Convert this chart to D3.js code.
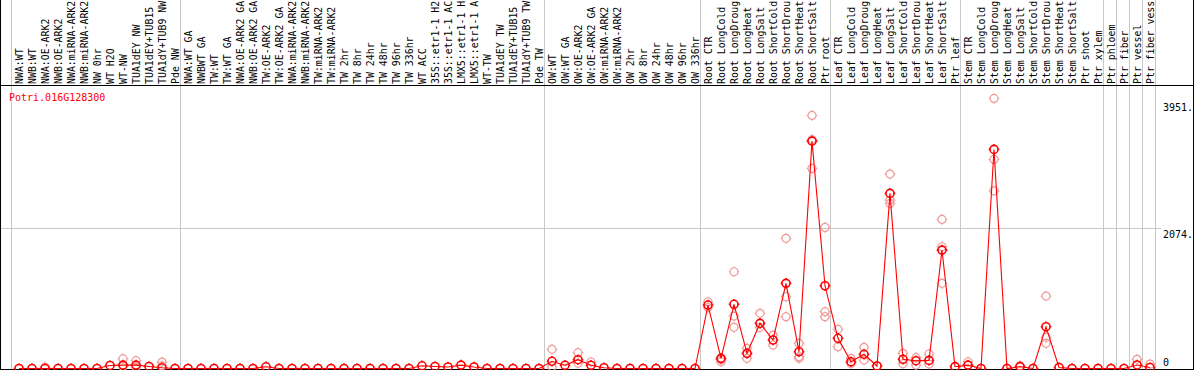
<!DOCTYPE html>
<html>
<head>
<meta charset="utf-8">
<script src="https://cdn.jsdelivr.net/npm/d3@7"></script>
<style>
  body { margin: 0; background: #fff; }
  svg { display: block; }
  text { font-family: "DejaVu Sans Mono", monospace; font-size: 10px; }
  .sample { font-size: 9.9px; }
</style>
</head>
<body>
<div id="chart"></div>
<script>
// DATA
const gene = 'Potri.016G128300';

// sample labels, as far as they show in the header
const samples = [
  'NWA:WT', 'NWB:WT', 'NWA:OE-ARK2', 'NWB:OE-ARK2', 'NWA:miRNA-ARK2', 'NWB:miRNA-ARK2',
  'NW 0hr', 'WT H2O', 'WT-NW', 'TUA1dEY NW', 'TUA1dEY+TUB15', 'TUA1dY+TUB9 NW', 'Pde NW',
  'NWA:WT GA', 'NWBWT GA', 'TW:WT', 'TW:WT GA', 'NWA:OE-ARK2 GA', 'NWB:OE-ARK2 GA',
  'TW:OE-ARK2', 'TW:OE-ARK2 GA', 'NWA:miRNA-ARK2', 'NWB:miRNA-ARK2', 'TW:miRNA-ARK2',
  'TW:miRNA-ARK2', 'TW 2hr', 'TW 8hr', 'TW 24hr', 'TW 48hr', 'TW 96hr', 'TW 336hr',
  'WT ACC', '35S::etr1-1 H2', '35S::etr1-1 AC', 'LMX5::etr1-1 H', 'LMX5::etr1-1 A',
  'WT-TW', 'TUA1dEY TW', 'TUA1dEY+TUB15', 'TUA1dY+TUB9 TW', 'Pde TW',
  'OW:WT', 'OW:WT GA', 'OW:OE-ARK2', 'OW:OE-ARK2 GA', 'OW:miRNA-ARK2', 'OW:miRNA-ARK2',
  'OW 2hr', 'OW 8hr', 'OW 24hr', 'OW 48hr', 'OW 96hr', 'OW 336hr',
  'Root CTR', 'Root LongCold', 'Root LongDroug', 'Root LongHeat', 'Root LongSalt',
  'Root ShortCold', 'Root ShortDrou', 'Root ShortHeat', 'Root ShortSalt', 'Ptr root',
  'Leaf CTR', 'Leaf LongCold', 'Leaf LongDroug', 'Leaf LongHeat', 'Leaf LongSalt',
  'Leaf ShortCold', 'Leaf ShortDrou', 'Leaf ShortHeat', 'Leaf ShortSalt', 'Ptr leaf',
  'Stem CTR', 'Stem LongCold', 'Stem LongDroug', 'Stem LongHeat', 'Stem LongSalt',
  'Stem ShortCold', 'Stem ShortDrou', 'Stem ShortHeat', 'Stem ShortSalt', 'Ptr shoot',
  'Ptr xylem', 'Ptr phloem', 'Ptr fiber', 'Ptr vessel', 'Ptr fiber vess'
];

// number of samples in each group (separator drawn before each group)
const groupSizes = [13, 28, 12, 10, 10, 11, 1, 1, 1, 1];

const means = [
  0, 0, 0, 0, 0, 0, 0, 45, 50, 50, 30, 10, 0,
  0, 0, 0, 0, 0, 0, 25, 0, 0, 0, 0, 0, 0, 0, 0, 0, 0, 0, 40, 30, 22, 50, 22, 0, 0, 0, 0, 0,
  106, 47, 130, 47, 12, 0, 0, 0, 0, 0, 0, 0,
  937, 150, 948, 224, 667, 421, 1258, 248, 3358, 1222,
  446, 100, 210, 37, 2586, 136, 115, 120, 1749, 27,
  50, 0, 3236, 0, 27, 0, 617, 15, 0, 0, 0,
  0, 0, 52, 15
];

// individual replicate values (sample index, values)
const replicates = [
  [2, [20]], [8, [145, 30]], [9, [115, 20]], [11, [95, 40]],
  [41, [283, 26]], [43, [233, 77]], [44, [96]],
  [53, [986, 900]], [54, [100, 130]], [55, [1429, 775, 608]], [56, [298, 150]],
  [57, [815, 608]], [58, [494, 347]], [59, [1922, 1060, 765]], [60, [372, 174, 150]],
  [61, [3738, 2955, 3380]], [62, [2084, 839, 765]],
  [63, [579, 322]], [64, [150, 75]], [65, [313, 125]], [67, [2871, 2487, 2438]],
  [68, [224, 70]], [69, [160, 52]], [70, [214, 66]], [71, [2202, 1798, 1258]],
  [73, [100]], [75, [3989, 3088, 2625]], [77, [40]], [79, [1070, 460, 372]],
  [86, [136]], [87, [66]]
];

const yTicks = [0, 2074, 3951];
const yTickLabels = ['0', '2074.', '3951.'];

// SETTINGS
const width = 1194;
const height = 370;
const headerBottom = 85.5;
const plotBottom = 369.5;
const lineColor = '#ff0000';
const repColor = '#f09a9a';
const gridColor = '#c8c8c8';

// SCALES
const x = d3.scaleBand()
  .domain(d3.range(samples.length))
  .range([11, 11 + 13 * samples.length])
  .padding(0);

const y = d3.scaleLinear()
  .domain([0, 3951])
  .range([368.5, 101]);

const px = i => x(i) + 8;

const svg = d3.select('#chart')
  .append('svg')
  .attr('width', width)
  .attr('height', height);

// group separators
let acc = 0;
const seps = [0];
groupSizes.forEach(n => { acc += n; seps.push(acc); });

const sepX = d => (d < samples.length ? x(d) : x(samples.length - 1) + x.bandwidth()) + 0.5;

svg.append('g')
  .selectAll('line')
  .data(seps)
  .enter().append('line')
    .attr('x1', sepX)
    .attr('x2', sepX)
    .attr('y1', 0)
    .attr('y2', plotBottom)
    .attr('stroke', gridColor)
    .attr('stroke-width', 1);

// horizontal grid (middle tick only)
svg.append('line')
  .attr('x1', 0)
  .attr('x2', 1161)
  .attr('y1', Math.round(y(2074)) + 0.5)
  .attr('y2', Math.round(y(2074)) + 0.5)
  .attr('stroke', gridColor);

// sample labels
svg.append('g')
  .selectAll('text')
  .data(samples)
  .enter().append('text')
    .attr('class', 'sample')
    .attr('transform', (d, i) => `translate(${x(i) + 12}, 84) rotate(-90)`)
    .attr('fill', '#000')
    .text(d => d);

// frame
svg.append('line').attr('x1', 0).attr('x2', width).attr('y1', headerBottom).attr('y2', headerBottom).attr('stroke', '#000');
svg.append('line').attr('x1', 0.5).attr('x2', 0.5).attr('y1', 0).attr('y2', height).attr('stroke', '#000');
svg.append('line').attr('x1', width - 0.5).attr('x2', width - 0.5).attr('y1', 0).attr('y2', height).attr('stroke', '#000');
svg.append('line').attr('x1', 0).attr('x2', width).attr('y1', plotBottom).attr('y2', plotBottom).attr('stroke', '#000');

// y labels
svg.append('g')
  .selectAll('text')
  .data(yTicks)
  .enter().append('text')
    .attr('x', 1163)
    .attr('y', d => d === 0 ? y(d) - 2.5 : y(d) + 10)
    .attr('fill', '#000')
    .text((d, i) => yTickLabels[i]);

// gene title
svg.append('text')
  .attr('x', 9)
  .attr('y', 101)
  .attr('fill', lineColor)
  .text(gene);

// marker: circle with short ticks
const marker = 'M4,0A4,4 0 1,1 -4,0A4,4 0 1,1 4,0' +
  'M0,-4V-5.3M0,4V5.3M-4,0H-5.3M4,0H5.3';

// replicate points
const repPoints = [];
replicates.forEach(([i, vals]) => vals.forEach(v => repPoints.push({ i, v })));

svg.append('g')
  .selectAll('path')
  .data(repPoints)
  .enter().append('path')
    .attr('d', marker)
    .attr('transform', d => `translate(${px(d.i)}, ${y(d.v)})`)
    .attr('fill', 'none')
    .attr('stroke', repColor)
    .attr('stroke-width', 1.2);

// mean line
const line = d3.line()
  .x((d, i) => px(i))
  .y(d => y(d));

svg.append('path')
  .datum(means)
  .attr('d', line)
  .attr('fill', 'none')
  .attr('stroke', lineColor)
  .attr('stroke-width', 1.1);

// mean points
svg.append('g')
  .selectAll('path')
  .data(means)
  .enter().append('path')
    .attr('d', marker)
    .attr('transform', (d, i) => `translate(${px(i)}, ${y(d)})`)
    .attr('fill', 'none')
    .attr('stroke', lineColor)
    .attr('stroke-width', 1.6);
</script>
</body>
</html>
